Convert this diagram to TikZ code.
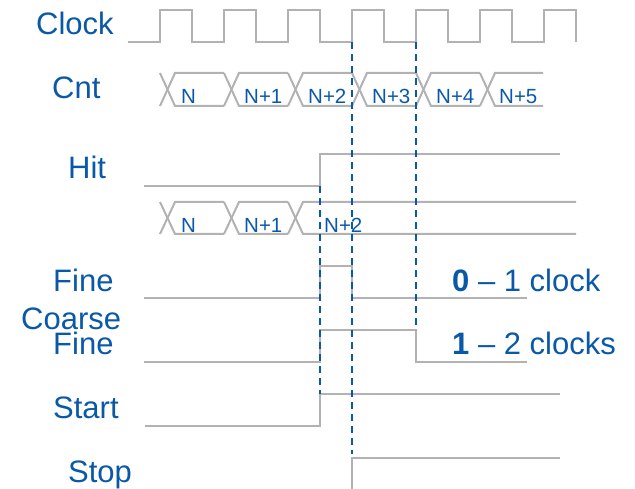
\documentclass[tikz,border=0pt]{standalone}
\usepackage{fontspec}
\setmainfont{Liberation Sans}
\definecolor{tblue}{HTML}{0A58A8}
\definecolor{wgray}{HTML}{B2B2B2}
\begin{document}
\begin{tikzpicture}[x=1pt,y=-1pt,
  wave/.style={draw=wgray,line width=2pt},
  guide/.style={draw=tblue,line width=2.5pt,dash pattern=on 7pt off 5pt},
  lbl/.style={inner sep=0pt,anchor=base west,text=tblue,font=\fontsize{31}{31}\selectfont},
  blbl/.style={inner sep=0pt,anchor=base west,text=tblue,font=\fontsize{20.5}{20.5}\selectfont}]
\useasboundingbox (0,0) rectangle (635,489);

% signal names
\node[lbl] (clock) at (36,35) {Clock};
\node[lbl] (cnt) at (52,99) {Cnt};
\node[lbl] (hit) at (68,179) {Hit};
\node[lbl] (fine1) at (53,291) {Fine};
\node[lbl] (coarse) at (21,330) {Coarse};
\node[lbl] (fine2) at (53,354) {Fine};
\node[lbl] (start) at (53,418) {Start};
\node[lbl] (stop) at (68,482) {Stop};

% clock
\draw[wave] (128,42) \foreach \k in {0,...,6}{ -- ({160+64*\k},42) -- ({160+64*\k},10) -- ({192+64*\k},10) -- ({192+64*\k},42)};

% counter bus
\foreach \k in {0,...,5}{
  \pgfmathsetmacro{\e}{160+64*\k}
  \pgfmathsetmacro{\f}{min(224+64*\k,543)}
  \draw[wave] (\e,73) -- ({\e+15},106) -- (\f,106);
  \draw[wave] (\e,106) -- ({\e+15},73) -- (\f,73);
}
\node[blbl] (c0) at (181,104) {N};
\node[blbl] (c1) at (244,104) {N+1};
\node[blbl] (c2) at (308,104) {N+2};
\node[blbl] (c3) at (372,104) {N+3};
\node[blbl] (c4) at (436,104) {N+4};
\node[blbl] (c5) at (499,104) {N+5};

% hit
\draw[wave] (144,186) -- (320,186) -- (320,154) -- (560,154);

% latched counter bus
\foreach \k in {0,1,2}{
  \pgfmathsetmacro{\e}{160+64*\k}
  \pgfmathsetmacro{\f}{\k==2 ? 576 : 224+64*\k}
  \draw[wave] (\e,202) -- ({\e+15},234) -- (\f,234);
  \draw[wave] (\e,234) -- ({\e+15},202) -- (\f,202);
}
\node[blbl] (l0) at (181,233) {N};
\node[blbl] (l1) at (244,233) {N+1};
\node[blbl] (l2) at (324,233) {N+2};

% fine
\draw[wave] (144,298) -- (320,298) -- (320,266) -- (352,266) -- (352,298) -- (527,298);
% coarse fine
\draw[wave] (144,362) -- (320,362) -- (320,330) -- (416,330) -- (416,362) -- (527,362);
% start
\draw[wave] (145,426) -- (320,426) -- (320,394) -- (560,394);
% stop
\draw[wave] (352,489) -- (352,458) -- (560,458);

\node[lbl] (r1) at (452,291) {\textbf{0} – 1 clock};
\node[lbl] (r2) at (452,355) {\textbf{1} – 2 clocks};

% guide lines
\coordinate (g1a) at (320,186);
\coordinate (g1b) at (320,394);
\coordinate (g2a) at (352,42);
\coordinate (g2b) at (352,454);
\coordinate (g3a) at (416,42);
\coordinate (g3b) at (416,330);
\draw[guide] (g1a) -- (g1b);
\draw[guide] (g2a) -- (g2b);
\draw[guide] (g3a) -- (g3b);
\end{tikzpicture}
\end{document}
